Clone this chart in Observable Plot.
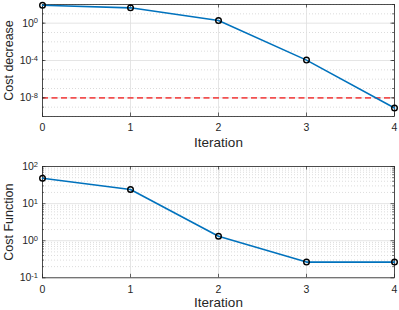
<!DOCTYPE html>
<html><head><meta charset="utf-8">
<script src="https://cdn.jsdelivr.net/npm/d3@7"></script>
<script src="https://cdn.jsdelivr.net/npm/@observablehq/plot@0.6"></script>
<style>
body{margin:0;background:#fff}
#chart{width:399px}
#chart svg{display:block}
</style>
</head><body><div id="chart"></div>
<script>
// ---- data ----
const iterations = [0, 1, 2, 3, 4];
const costDecrease = [82, 44, 1.9, 1.1e-4, 8e-10];
const costFunction = [48, 24, 1.32, 0.265, 0.265];
const threshold = [1e-8];
const xTicks = [0, 1, 2, 3, 4];
const topYTicks = [1e-8, 1e-4, 1e0];
const topYMinor = [1e-10, 1e-9, 1e-8, 1e-7, 1e-6, 1e-5, 1e-4, 1e-3, 1e-2, 1e-1, 1e0, 1e1, 1e2];
const botYTicks = [0.1, 1, 10, 100];
const botYMinor = [0.2, 0.3, 0.4, 0.5, 0.6, 0.7, 0.8, 0.9, 2, 3, 4, 5, 6, 7, 8, 9, 20, 30, 40, 50, 60, 70, 80, 90];
const topYLabel = "Cost decrease";
const botYLabel = "Cost Function";
const xLabel = "Iteration";

const FONT = "Liberation Sans, Arial, Helvetica, sans-serif";
const W = 399, ML = 42, MR = 5;
const plotW = W - ML - MR;
const blue = "#0072BD";

function fmtPow(d) {
  return "10^" + Math.round(Math.log10(d));
}

function panel({values, yDomain, yTicks, yMinor, majorLines, yLabel, height, marginTop, marginBottom, labelDy, extra}) {
  const plotH = height - marginTop - marginBottom;
  const data = iterations.map((x, i) => ({x, y: values[i]}));
  const minorOnly = yMinor.filter(v => !majorLines.includes(v));
  return Plot.plot({
    width: W, height,
    marginLeft: ML, marginRight: MR, marginTop, marginBottom,
    style: {fontFamily: FONT, color: "#262626", background: "#fff", overflow: "visible"},
    x: {domain: [0, 4], ticks: xTicks},
    y: {type: "log", domain: yDomain},
    marks: [
      Plot.ruleY(minorOnly, {y: d => d, stroke: "#c4c4c4", strokeWidth: 0.6, strokeDasharray: "1,2"}),
      Plot.ruleY(majorLines, {y: d => d, stroke: "#dedede", strokeWidth: 0.8}),
      Plot.ruleX(xTicks, {x: d => d, stroke: "#dedede", strokeWidth: 0.8}),
      ...(extra || []),
      Plot.ruleY(yMinor, {y: d => d, stroke: "#262626", strokeWidth: 0.6, insetRight: plotW - 2}),
      Plot.ruleY(yMinor, {y: d => d, stroke: "#262626", strokeWidth: 0.6, insetLeft: plotW - 2}),
      Plot.ruleY(yTicks, {y: d => d, stroke: "#262626", strokeWidth: 0.7, insetRight: plotW - 3.5}),
      Plot.ruleY(yTicks, {y: d => d, stroke: "#262626", strokeWidth: 0.7, insetLeft: plotW - 3.5}),
      Plot.ruleX(xTicks, {x: d => d, stroke: "#262626", strokeWidth: 0.7, insetTop: plotH - 3.5}),
      Plot.ruleX(xTicks, {x: d => d, stroke: "#262626", strokeWidth: 0.7, insetBottom: plotH - 3.5}),
      Plot.frame({stroke: "#262626", strokeWidth: 0.8}),
      Plot.line(data, {x: "x", y: "y", stroke: blue, strokeWidth: 1.6}),
      Plot.dot(data, {x: "x", y: "y", r: 2.8, stroke: "#000", strokeWidth: 1.4, fill: "none"}),
      Plot.axisX({ticks: xTicks, tickSize: 0, tickPadding: 7.5, fontSize: 10.5, label: null, tickFormat: d => String(d)}),
      Plot.axisY({ticks: yTicks, tickSize: 0, tickPadding: 4.5, fontSize: 10.5, label: null, tickFormat: fmtPow}),
      Plot.text([xLabel], {frameAnchor: "bottom", dy: labelDy, lineAnchor: "middle", textAnchor: "middle", fontSize: 13.5, fill: "#262626", text: d => d}),
      Plot.text([yLabel], {frameAnchor: "left", dx: -38.5, rotate: -90, lineAnchor: "top", textAnchor: "middle", fontSize: 12.5, fill: "#262626", text: d => d})
    ]
  });
}

const topPanel = panel({
  values: costDecrease,
  yDomain: [1e-10, 1e2],
  yTicks: topYTicks,
  yMinor: topYMinor,
  majorLines: topYTicks,
  yLabel: topYLabel,
  height: 155, marginTop: 4, marginBottom: 39, labelDy: 26.5,
  extra: [Plot.ruleY(threshold, {y: d => d, stroke: "#f25050", strokeWidth: 1.6, strokeDasharray: "6,3.5"})]
});
const botPanel = panel({
  values: costFunction,
  yDomain: [0.1, 100],
  yTicks: botYTicks,
  yMinor: botYMinor,
  majorLines: botYTicks,
  yLabel: botYLabel,
  height: 155, marginTop: 11, marginBottom: 32.7, labelDy: 25.3
});

const chart = document.getElementById("chart");
chart.appendChild(topPanel);
chart.appendChild(botPanel);

for (const svg of [topPanel, botPanel]) {
  svg.querySelectorAll("text").forEach(t => {
    const s = t.textContent;
    const m = /^10\^(.+)$/.exec(s);
    if (!m) return;
    t.textContent = "";
    t.appendChild(document.createTextNode("10"));
    const sup = document.createElementNS("http://www.w3.org/2000/svg", "tspan");
    sup.setAttribute("dy", "-0.45em");
    sup.setAttribute("font-size", "7.5");
    sup.textContent = m[1];
    t.appendChild(sup);
  });
}
</script>
</body></html>
